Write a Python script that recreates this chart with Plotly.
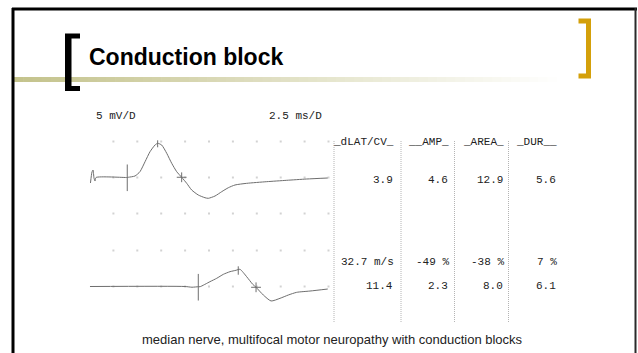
import plotly.graph_objects as go

W, H = 638, 353

# ---------------- data ----------------
title_text = "Conduction block"
caption_text = "median nerve, multifocal motor neuropathy with conduction blocks"
gain_label = "5 mV/D"
sweep_label = "2.5 ms/D"

# distal (upper) trace, ms / mV
top_ms = [0.1, 0.26, 0.37, 0.47, 0.58, 0.68, 3.95, 4.06, 4.76, 5.28, 5.81, 6.33, 6.85, 7.13,
          7.55, 8.08, 8.60, 9.12, 9.64, 10.17, 10.69, 11.38, 12.08, 12.43, 13.13, 13.83,
          14.52, 15.22, 16.44, 18.54, 20.63, 22.72, 24.92]
top_mv = [-0.76, 0.76, 1.04, -0.07, -0.49, 0.0, 0.0, 0.03, 0.21, 0.81, 2.19, 3.58, 4.51, 4.75,
          4.51, 3.36, 1.97, 0.81, 0.03, -0.81, -1.74, -2.43, -2.81, -2.89, -2.57, -1.97,
          -1.42, -1.04, -0.81, -0.58, -0.39, -0.21, -0.07]

# proximal (lower) trace, ms / mV
bot_ms = [0.05, 9.99, 10.72, 11.38, 11.56, 12.60, 13.31, 14.00, 14.70, 15.32, 15.74, 16.44,
          17.07, 17.42, 18.18, 18.99, 19.93, 20.80, 21.67, 23.06, 24.92]
bot_mv = [0.0, 0.0, -0.1, -0.03, -0.03, 0.67, 1.14, 1.69, 2.06, 2.25, 2.39, 1.36,
          0.31, -0.11, -1.18, -2.01, -1.64, -1.18, -0.81, -0.63, -0.35]

# cursors: onset, peak, baseline crossing
top_onset = (3.95, -0.04)
top_peak = (7.13, 4.68)
top_cross = (9.64, 0.03)
bot_onset = (11.38, -0.1)
bot_peak = (15.56, 2.22)
bot_cross = (17.42, -0.11)

grid_ms = [2.5, 5.0, 7.5, 10.0, 12.5, 15.0, 17.5, 20.0, 22.5, 25.0]
grid_mv_top = [5, 0, -5]
grid_mv_bot = [5, 0]

table_headers = ["_dLAT/CV_", "__AMP_", "_AREA_", "_DUR__"]
row_distal = ["3.9", "4.6", "12.9", "5.6"]
row_change = ["32.7 m/s", "-49 %", "-38 %", "7 %"]
row_proximal = ["11.4", "2.3", "8.0", "6.1"]

# ---------------- layout helpers ----------------
def fx(x):
    return x / W

def fy(y):
    return 1 - y / H

MS_PX = 9.56     # px per ms
MV_PX = 7.2      # px per mV
X0_PX = 89.5     # pixel of 0 ms
TOP0_PX = 177.5  # pixel of 0 mV, upper trace
BOT0_PX = 286.5  # pixel of 0 mV, lower trace

xa_px = (85, 332)
ytop_px = (125, 230)
ybot_px = (232, 320)

xr = [(xa_px[0] - X0_PX) / MS_PX, (xa_px[1] - X0_PX) / MS_PX]
ytr = [(TOP0_PX - ytop_px[1]) / MV_PX, (TOP0_PX - ytop_px[0]) / MV_PX]
ybr = [(BOT0_PX - ybot_px[1]) / MV_PX, (BOT0_PX - ybot_px[0]) / MV_PX]

trace_col = "#6e6e6e"
dot_col = "#d2d2d2"
fig = go.Figure()

# grid dots
gx, gy = [], []
for m in grid_mv_top:
    for t in grid_ms:
        gx.append(t); gy.append(m)
fig.add_trace(go.Scatter(x=gx, y=gy, mode="markers", xaxis="x", yaxis="y",
                         marker=dict(symbol="square", size=2, color=dot_col),
                         hoverinfo="skip", showlegend=False))
gx2, gy2 = [], []
for m in grid_mv_bot:
    for t in grid_ms:
        gx2.append(t); gy2.append(m)
fig.add_trace(go.Scatter(x=gx2, y=gy2, mode="markers", xaxis="x", yaxis="y2",
                         marker=dict(symbol="square", size=2, color=dot_col),
                         hoverinfo="skip", showlegend=False))

# waveforms
fig.add_trace(go.Scatter(x=top_ms, y=top_mv, mode="lines", xaxis="x", yaxis="y",
                         line=dict(color=trace_col, width=1, shape="spline", smoothing=0.6),
                         hoverinfo="skip", showlegend=False))
fig.add_trace(go.Scatter(x=bot_ms, y=bot_mv, mode="lines", xaxis="x", yaxis="y2",
                         line=dict(color=trace_col, width=1, shape="spline", smoothing=0.6),
                         hoverinfo="skip", showlegend=False))

# cursors
def cursor(pt, sym, size, ya):
    fig.add_trace(go.Scatter(x=[pt[0]], y=[pt[1]], mode="markers", xaxis="x", yaxis=ya,
                             marker=dict(symbol=sym, size=size, color=trace_col,
                                         line=dict(color=trace_col, width=1)),
                             hoverinfo="skip", showlegend=False))

cursor(top_onset, "line-ns", 19, "y")
cursor(top_peak, "line-ns", 5, "y")
cursor(top_cross, "cross-thin", 7, "y")
cursor(bot_onset, "line-ns", 19, "y2")
cursor(bot_peak, "line-ns", 6, "y2")
cursor(bot_cross, "cross-thin", 7, "y2")

shapes = []
# slide frame
shapes.append(dict(type="line", xref="paper", yref="paper", x0=fx(12), x1=fx(637), y0=fy(9), y1=fy(9),
                   line=dict(color="black", width=3)))
shapes.append(dict(type="line", xref="paper", yref="paper", x0=fx(13), x1=fx(13), y0=fy(8), y1=fy(360),
                   line=dict(color="black", width=3)))
shapes.append(dict(type="line", xref="paper", yref="paper", x0=fx(635.5), x1=fx(635.5), y0=fy(8), y1=fy(360),
                   line=dict(color="#2a2a2a", width=2)))

# gradient rule under title
n = 60
xs0, xs1 = 14, 566
c0 = (196, 195, 140)
for i in range(n):
    a = xs0 + (xs1 - xs0) * i / n
    b = xs0 + (xs1 - xs0) * (i + 1) / n
    t = i / (n - 1)
    col = tuple(int(round(c0[k] + (255 - c0[k]) * t)) for k in range(3))
    shapes.append(dict(type="rect", xref="paper", yref="paper", x0=fx(a), x1=fx(b) + 0.001,
                       y0=fy(82), y1=fy(77), line=dict(width=0),
                       fillcolor="rgb(%d,%d,%d)" % col, layer="below"))

# brackets
def bracket_path(xl, xr_, yt, yb, bar, serif, left=True):
    if left:
        pts = [(xl, yt), (xr_, yt), (xr_, yt + serif), (xl + bar, yt + serif),
               (xl + bar, yb - serif), (xr_, yb - serif), (xr_, yb), (xl, yb)]
    else:
        pts = [(xr_, yt), (xl, yt), (xl, yt + serif), (xr_ - bar, yt + serif),
               (xr_ - bar, yb - serif), (xl, yb - serif), (xl, yb), (xr_, yb)]
    d = "M " + " L ".join("%f,%f" % (fx(p[0]), fy(p[1])) for p in pts) + " Z"
    return d

shapes.append(dict(type="path", xref="paper", yref="paper",
                   path=bracket_path(65, 80, 33.5, 91, 6.5, 5), fillcolor="black", line=dict(width=0)))
shapes.append(dict(type="path", xref="paper", yref="paper",
                   path=bracket_path(578.5, 591, 18.5, 78.5, 5, 5, left=False),
                   fillcolor="#D4A00A", line=dict(width=0)))

# table separators
for xsep in [334, 401, 454.5, 508.5]:
    shapes.append(dict(type="line", xref="paper", yref="paper", x0=fx(xsep), x1=fx(xsep),
                       y0=fy(141), y1=fy(322), line=dict(color="#b4b4b4", width=1, dash="1px,1px")))

mono = "Liberation Mono"
annotations = []

def txt(s, x, y, xanchor, size=11, family=mono, color="#222", bold=False):
    annotations.append(dict(text=("<b>%s</b>" % s) if bold else s, x=fx(x), y=fy(y),
                            xref="paper", yref="paper", xanchor=xanchor, yanchor="middle",
                            showarrow=False, font=dict(family=family, size=size, color=color)))

txt(title_text, 87, 57, "left", size=23, family="Liberation Sans", color="black", bold=True)
txt(caption_text, 332, 339, "center", size=13, family="Liberation Sans", color="#222")
txt(gain_label, 94, 116, "left")
txt(sweep_label, 324, 116, "right")

col_right = [396, 451, 506, 559]
for i, s in enumerate(table_headers):
    txt(s, col_right[i], 142, "right")
for i, s in enumerate(row_distal):
    txt(s, col_right[i] - 1, 180, "right")
for i, s in enumerate(row_change):
    txt(s, col_right[i], 262, "right")
for i, s in enumerate(row_proximal):
    txt(s, col_right[i] - 1, 286, "right")

ax_common = dict(visible=False, showgrid=False, zeroline=False, fixedrange=True)
fig.update_layout(
    width=W, height=H, margin=dict(l=0, r=0, t=0, b=0),
    paper_bgcolor="white", plot_bgcolor="rgba(0,0,0,0)",
    showlegend=False,
    xaxis=dict(domain=[fx(xa_px[0]), fx(xa_px[1])], range=xr, anchor="y", **ax_common),
    yaxis=dict(domain=[fy(ytop_px[1]), fy(ytop_px[0])], range=ytr, anchor="x", **ax_common),
    yaxis2=dict(domain=[fy(ybot_px[1]), fy(ybot_px[0])], range=ybr, anchor="x", **ax_common),
    shapes=shapes, annotations=annotations,
)

fig.write_html("out.html", config={"displayModeBar": False},
               post_script="document.body.style.margin='0';document.body.style.overflow='hidden';")
